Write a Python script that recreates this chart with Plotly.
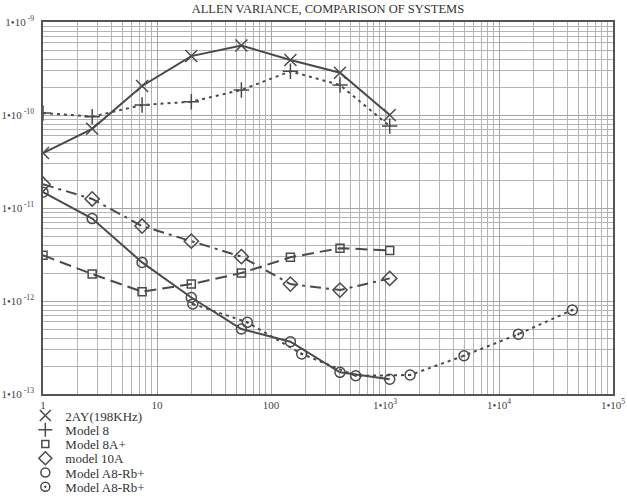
import plotly.graph_objects as go

# Averaging time (s) and Allan variance for each oscillator
tau_2ay = [1, 2.7, 7.4, 20, 55, 148, 403, 1100]
var_2ay = [3.9e-11, 7.1e-11, 2.05e-10, 4.3e-10, 5.6e-10, 3.9e-10, 2.85e-10, 1.0e-10]

tau_m8 = [1, 2.7, 7.4, 20, 55, 148, 403, 1100]
var_m8 = [1.05e-10, 9.6e-11, 1.28e-10, 1.39e-10, 1.86e-10, 2.95e-10, 2.1e-10, 7.6e-11]

tau_m8a = [1, 2.7, 7.4, 20, 55, 148, 403, 1100]
var_m8a = [3.1e-12, 1.95e-12, 1.26e-12, 1.52e-12, 2.0e-12, 2.95e-12, 3.7e-12, 3.5e-12]

tau_m10a = [1, 2.7, 7.4, 20, 55, 148, 403, 1100]
var_m10a = [1.8e-11, 1.25e-11, 6.4e-12, 4.4e-12, 3.0e-12, 1.52e-12, 1.31e-12, 1.75e-12]

tau_rb1 = [1, 2.7, 7.4, 20, 55, 148, 403, 1100]
var_rb1 = [1.48e-11, 7.7e-12, 2.6e-12, 1.09e-12, 5.0e-13, 3.65e-13, 1.71e-13, 1.44e-13]

tau_rb2 = [20.6, 62, 186, 553, 1660, 4930, 14800, 44000]
var_rb2 = [9.3e-13, 5.9e-13, 2.7e-13, 1.57e-13, 1.6e-13, 2.58e-13, 4.4e-13, 8.0e-13]

names = ["2AY(198KHz)", "Model 8", "Model 8A+", "model 10A", "Model A8-Rb+", "Model A8-Rb+"]

x_tickvals = [1, 10, 100, 1e3, 1e4, 1e5]
x_ticktext = ["1", "10", "100", "1\u202210<sup>3</sup>", "1\u202210<sup>4</sup>", "1\u202210<sup>5</sup>"]
y_tickvals = [1e-13, 1e-12, 1e-11, 1e-10, 1e-9]
y_ticktext = ["1\u202210<sup> -13</sup>", "1\u202210<sup> -12</sup>", "1\u202210<sup> -11</sup>",
              "1\u202210<sup> -10</sup>", "1\u202210<sup> -9</sup>"]

INK = "#4a4a4a"
SERIF = "Liberation Serif, Times New Roman, serif"

series = [
    (tau_2ay, var_2ay, "solid", "x-thin-open", 12),
    (tau_m8, var_m8, "3px,4px", "cross-thin-open", 11),
    (tau_m8a, var_m8a, "12px,6px", "square-open", 8),
    (tau_m10a, var_m10a, "11px,5px,3px,5px", "diamond-open", 11),
    (tau_rb1, var_rb1, "solid", "circle-open", 10),
    (tau_rb2, var_rb2, "3px,4px", "circle-open-dot", 10),
]

fig = go.Figure()
for i, (xs, ys, dash, sym, size) in enumerate(series):
    fig.add_trace(go.Scatter(
        x=xs, y=ys, mode="lines+markers", showlegend=False,
        line=dict(color=INK, width=2, dash=dash),
        marker=dict(symbol=sym, size=size, color=INK, line=dict(color=INK, width=1.5)),
    ))

# one single-entry legend per series so the key rows can sit closer together
legend_layout = {}
row0, step = 0.058, 0.0383
for i, (xs, ys, dash, sym, size) in enumerate(series):
    key = "legend" if i == 0 else f"legend{i + 1}"
    fig.add_trace(go.Scatter(
        x=[None], y=[None], mode="markers", name=names[i], legend=key,
        marker=dict(symbol=sym, size=size - 1, color=INK, line=dict(color=INK, width=1.5)),
    ))
    legend_layout[key] = dict(
        x=-0.031, xanchor="left", y=-(row0 + i * step), yanchor="middle",
        bgcolor="rgba(0,0,0,0)", itemwidth=30,
        font=dict(family=SERIF, size=13, color="#333333"),
    )

minor_x = [k * 10 ** d for d in range(0, 5) for k in range(2, 10)]
minor_y = [k * 10.0 ** d for d in range(-13, -9) for k in range(2, 10)]

fig.update_layout(
    width=627, height=497,
    margin=dict(l=43, r=14, t=22, b=103, autoexpand=False),
    paper_bgcolor="white", plot_bgcolor="white",
    title=dict(text="ALLEN VARIANCE, COMPARISON OF SYSTEMS", x=0.523, xanchor="center",
               y=0.982, yanchor="middle",
               font=dict(family=SERIF, size=12.5, color="#333333")),
    font=dict(family=SERIF, color="#444444"),
    **legend_layout,
)
fig.update_xaxes(
    type="log", range=[0, 5], tickvals=x_tickvals, ticktext=x_ticktext,
    showgrid=True, gridcolor="#a6a6a6", gridwidth=1,
    minor=dict(tickvals=minor_x, showgrid=True, gridcolor="#b4b4b4", gridwidth=1, ticks=""),
    showline=True, linecolor="#555555", linewidth=1.5, mirror=True,
    ticks="", tickfont=dict(family=SERIF, size=11, color="#444444"), zeroline=False,
)
fig.update_yaxes(
    type="log", range=[-13, -9], tickvals=y_tickvals, ticktext=y_ticktext,
    showgrid=True, gridcolor="#a6a6a6", gridwidth=1,
    minor=dict(tickvals=minor_y, showgrid=True, gridcolor="#b4b4b4", gridwidth=1, ticks=""),
    showline=True, linecolor="#555555", linewidth=1.5, mirror=True,
    ticks="outside", ticklen=5, tickcolor="rgba(0,0,0,0)",
    tickfont=dict(family=SERIF, size=11, color="#444444"), zeroline=False,
)

fig.write_html("out.html")
